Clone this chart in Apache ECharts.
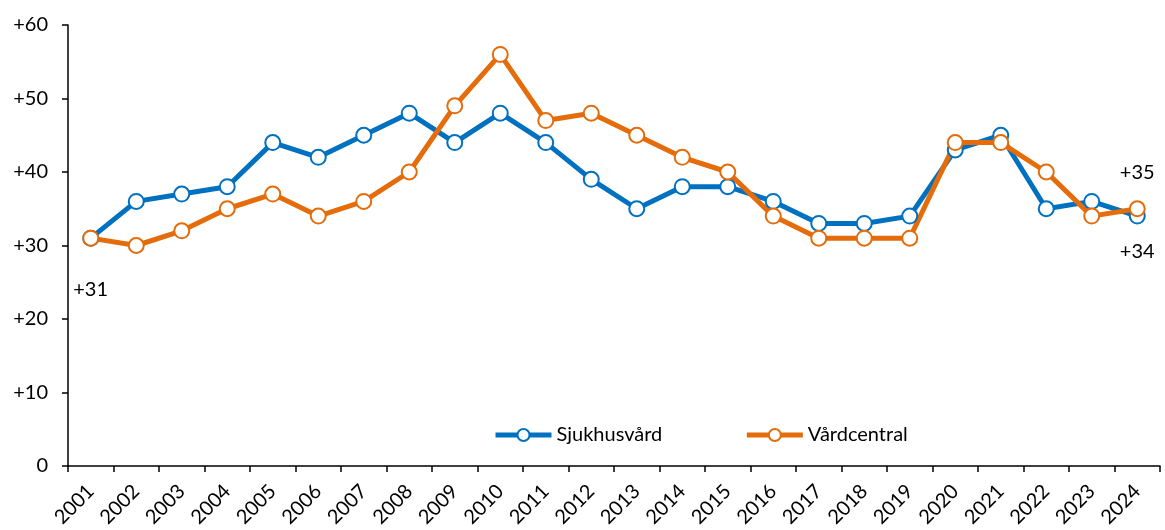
<!DOCTYPE html>
<html><head><meta charset="utf-8">
<script src="https://cdn.jsdelivr.net/npm/echarts@6/dist/echarts.min.js"></script>
<style>html,body{margin:0;padding:0;background:#fff}#c{width:1165px;height:530px}</style>
</head><body><div id="c"></div>
<script>
const years = ['2001','2002','2003','2004','2005','2006','2007','2008','2009','2010','2011','2012','2013','2014','2015','2016','2017','2018','2019','2020','2021','2022','2023','2024'];
const sjukhusvard = [31,36,37,38,44,42,45,48,44,48,44,39,35,38,38,36,33,33,34,43,45,35,36,34];
const vardcentral = [31,30,32,35,37,34,36,40,49,56,47,48,45,42,40,34,31,31,31,44,44,40,34,35];
const yTicks = [0,10,20,30,40,50,60];

const FONT = 'Lato';
const FS = 20;
const BLUE = '#0070C0', ORANGE = '#E46C0A';
const chart = echarts.init(document.getElementById('c'));
function lbl(pos, dist) {
  return {show: true, position: pos, distance: dist, formatter: p => '+' + p.value, fontSize: FS, fontFamily: FONT, color: '#000'};
}
const blueData = sjukhusvard.map(v => ({value: v}));
const orangeData = vardcentral.map(v => ({value: v}));
blueData[23].label = lbl('bottom', 17);
orangeData[23].label = lbl('top', 18);
orangeData[0].label = lbl([-9, 50], 0);

chart.setOption({
  animation: false,
  grid: {left: 68, right: 5, top: 25, bottom: 64, containLabel: false, outerBoundsMode: 'none'},
  legend: {
    left: 488, top: 420, itemWidth: 56, itemHeight: 15, itemGap: 82,
    textStyle: {fontSize: FS, fontFamily: FONT, color: '#000'},
    data: [
      {name: 'Sjukhusvård', lineStyle: {width: 5, color: BLUE}},
      {name: 'Vårdcentral', lineStyle: {width: 5, color: ORANGE}}
    ]
  },
  xAxis: {
    type: 'category', data: years, boundaryGap: true,
    axisLine: {lineStyle: {color: '#000', width: 1.5}},
    axisTick: {show: true, length: 6, lineStyle: {color: '#000', width: 1.5}},
    axisLabel: {rotate: 45, fontSize: FS, fontFamily: FONT, color: '#000', margin: 22, interval: 0}
  },
  yAxis: {
    type: 'value', min: yTicks[0], max: yTicks[yTicks.length-1], interval: 10,
    splitLine: {show: false},
    axisLine: {show: true, lineStyle: {color: '#000', width: 1.5}},
    axisTick: {show: true, length: 6, lineStyle: {color: '#000', width: 1.5}},
    axisLabel: {fontSize: FS, fontFamily: FONT, color: '#000', margin: 20, formatter: v => v > 0 ? '+' + v : String(v)}
  },
  series: [
    {name: 'Sjukhusvård', type: 'line', data: blueData, symbol: 'circle', symbolSize: 15,
     lineStyle: {color: BLUE, width: 5}, itemStyle: {color: '#fff', borderColor: BLUE, borderWidth: 2},
     emphasis: {disabled: true}},
    {name: 'Vårdcentral', type: 'line', data: orangeData, symbol: 'circle', symbolSize: 15,
     lineStyle: {color: ORANGE, width: 5}, itemStyle: {color: '#fff', borderColor: ORANGE, borderWidth: 2},
     emphasis: {disabled: true}}
  ]
});
</script></body></html>
